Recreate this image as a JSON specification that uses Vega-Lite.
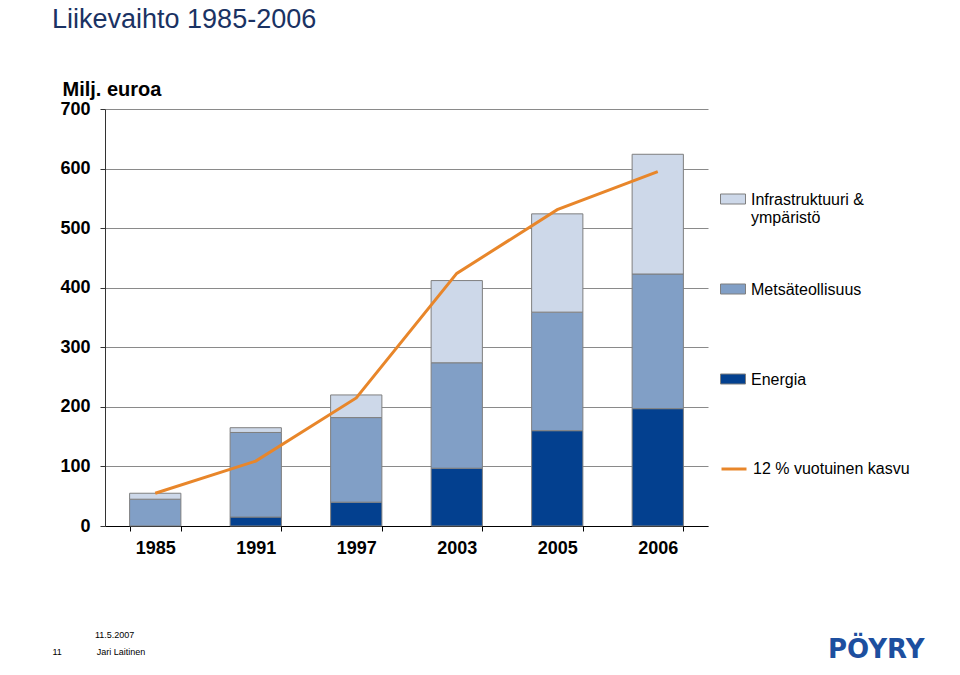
{
  "$schema": "https://vega.github.io/schema/vega-lite/v6.json",
  "width": 603,
  "height": 417,
  "autosize": {"type": "none"},
  "padding": {"left": 105, "top": 109, "right": 252, "bottom": 149},
  "background": "white",
  "title": {
    "text": "Liikevaihto 1985-2006",
    "anchor": "start",
    "frame": "group",
    "dx": -53,
    "offset": 24,
    "font": "Liberation Sans",
    "fontSize": 27,
    "fontWeight": "normal",
    "color": "#1a3263",
    "baseline": "alphabetic"
  },
  "config": {"view": {"stroke": null}, "font": "Liberation Sans"},
  "layer": [
    {
      "data": {
        "values": [
          {"vuosi": "1985", "osa": "Metsäteollisuus", "arvo": 45},
          {"vuosi": "1985", "osa": "Infrastruktuuri & ympäristö", "arvo": 10},
          {"vuosi": "1991", "osa": "Energia", "arvo": 15},
          {"vuosi": "1991", "osa": "Metsäteollisuus", "arvo": 142},
          {"vuosi": "1991", "osa": "Infrastruktuuri & ympäristö", "arvo": 8},
          {"vuosi": "1997", "osa": "Energia", "arvo": 40},
          {"vuosi": "1997", "osa": "Metsäteollisuus", "arvo": 142},
          {"vuosi": "1997", "osa": "Infrastruktuuri & ympäristö", "arvo": 38},
          {"vuosi": "2003", "osa": "Energia", "arvo": 97},
          {"vuosi": "2003", "osa": "Metsäteollisuus", "arvo": 177},
          {"vuosi": "2003", "osa": "Infrastruktuuri & ympäristö", "arvo": 138},
          {"vuosi": "2005", "osa": "Energia", "arvo": 160},
          {"vuosi": "2005", "osa": "Metsäteollisuus", "arvo": 199},
          {"vuosi": "2005", "osa": "Infrastruktuuri & ympäristö", "arvo": 165},
          {"vuosi": "2006", "osa": "Energia", "arvo": 197},
          {"vuosi": "2006", "osa": "Metsäteollisuus", "arvo": 226},
          {"vuosi": "2006", "osa": "Infrastruktuuri & ympäristö", "arvo": 201}
        ]
      },
      "transform": [
        {"calculate": "indexof(['Energia', 'Metsäteollisuus', 'Infrastruktuuri & ympäristö'], datum.osa)", "as": "pinoj"}
      ],
      "mark": {"type": "bar", "stroke": "#7f7f7f", "strokeWidth": 1},
      "encoding": {
        "x": {
          "field": "vuosi",
          "type": "nominal",
          "scale": {"paddingInner": 0.49, "paddingOuter": 0.245},
          "axis": {
            "title": ["\u200b\u00a0\u00a0\u00a0\u00a0\u00a0\u00a0\u00a0\u00a0\u00a0\u00a0\u00a0\u00a0\u00a0\u00a0\u00a0\u00a0\u00a011.5.2007", "11\u00a0\u00a0\u00a0\u00a0\u00a0\u00a0\u00a0\u00a0\u00a0\u00a0\u00a0\u00a0\u00a0\u00a0Jari Laitinen"],
            "titleX": -53,
            "titleY": 111,
            "titleAnchor": "start",
            "titleAlign": "left",
            "titleBaseline": "alphabetic",
            "titleFont": "Liberation Sans",
            "titleFontSize": 9,
            "titleFontWeight": "normal",
            "titleColor": "#000000",
            "titleLineHeight": 17,
            "labelAngle": 0,
            "labelFont": "Liberation Sans",
            "labelFontSize": 18,
            "labelFontWeight": "bold",
            "labelColor": "#000000",
            "labelPadding": 8,
            "tickBand": "extent",
            "tickSize": 5,
            "tickColor": "#000000",
            "domainColor": "#000000",
            "grid": false
          }
        },
        "y": {
          "field": "arvo",
          "type": "quantitative",
          "stack": "zero",
          "scale": {"domain": [0, 700], "nice": false},
          "axis": {
            "title": "Milj. euroa",
            "titleAngle": 0,
            "titleAlign": "left",
            "titleBaseline": "alphabetic",
            "titleX": -43,
            "titleY": -14,
            "titleFont": "Liberation Sans",
            "titleFontSize": 20,
            "titleFontWeight": "bold",
            "titleColor": "#000000",
            "values": [0, 100, 200, 300, 400, 500, 600, 700],
            "labelFont": "Liberation Sans",
            "labelFontSize": 18,
            "labelFontWeight": "bold",
            "labelColor": "#000000",
            "labelPadding": 10,
            "tickSize": 5,
            "tickColor": "#333333",
            "domainColor": "#333333",
            "grid": true,
            "gridColor": "#8a8a8a",
            "gridWidth": 1
          }
        },
        "order": {"field": "pinoj", "type": "quantitative", "sort": "ascending"},
        "fill": {
          "field": "osa",
          "type": "nominal",
          "scale": {
            "domain": ["Infrastruktuuri & ympäristö", "Metsäteollisuus", "Energia"],
            "range": ["#cdd8e9", "#819fc6", "#03408f"]
          },
          "legend": {
            "title": null,
            "orient": "none",
            "legendX": 615,
            "legendY": 77,
            "padding": 0,
            "symbolType": "M-1,-0.4H1V0.4H-1Z",
            "symbolSize": 625,
            "symbolStrokeColor": "#7f7f7f",
            "symbolStrokeWidth": 1,
            "labelFont": "Liberation Sans",
            "labelFontSize": 16,
            "labelColor": "#000000",
            "labelOffset": 5,
            "labelBaseline": "alphabetic",
            "labelLineHeight": 17,
            "labelLimit": 300,
            "labelExpr": "datum.label == 'Infrastruktuuri & ympäristö' ? ['Infrastruktuuri &', 'ympäristö'] : [datum.label, '']",
            "rowPadding": 50,
            "encode": {"labels": {"update": {"dy": {"value": 6}}}}
          }
        }
      }
    },
    {
      "data": {
        "values": [
          {"vuosi": "1985", "sarja": "12 % vuotuinen kasvu", "arvo": 55},
          {"vuosi": "1991", "sarja": "12 % vuotuinen kasvu", "arvo": 109},
          {"vuosi": "1997", "sarja": "12 % vuotuinen kasvu", "arvo": 215},
          {"vuosi": "2003", "sarja": "12 % vuotuinen kasvu", "arvo": 424},
          {"vuosi": "2005", "sarja": "12 % vuotuinen kasvu", "arvo": 531},
          {"vuosi": "2006", "sarja": "12 % vuotuinen kasvu", "arvo": 595}
        ]
      },
      "mark": {"type": "line", "strokeWidth": 3},
      "encoding": {
        "x": {"field": "vuosi", "type": "nominal", "bandPosition": 0.5},
        "y": {"field": "arvo", "type": "quantitative"},
        "stroke": {
          "field": "sarja",
          "type": "nominal",
          "scale": {"range": ["#e8862a"]},
          "legend": {
            "title": "PÖYRY",
            "orient": "none",
            "legendX": 615,
            "legendY": 346,
            "padding": 0,
            "symbolType": "stroke",
            "symbolSize": 625,
            "symbolStrokeWidth": 3,
            "labelFont": "Liberation Sans",
            "labelFontSize": 16,
            "labelColor": "#000000",
            "labelOffset": 5,
            "labelBaseline": "middle",
            "labelLimit": 300,
            "titleOrient": "bottom",
            "titlePadding": 160,
            "titleFont": "DejaVu Sans",
            "titleFontSize": 26,
            "titleFontWeight": "bold",
            "titleColor": "#1d4f9f",
            "titleAnchor": "start",
            "titleBaseline": "top",
            "encode": {"title": {"update": {"dx": {"value": 108}}}}
          }
        }
      }
    }
  ]
}
